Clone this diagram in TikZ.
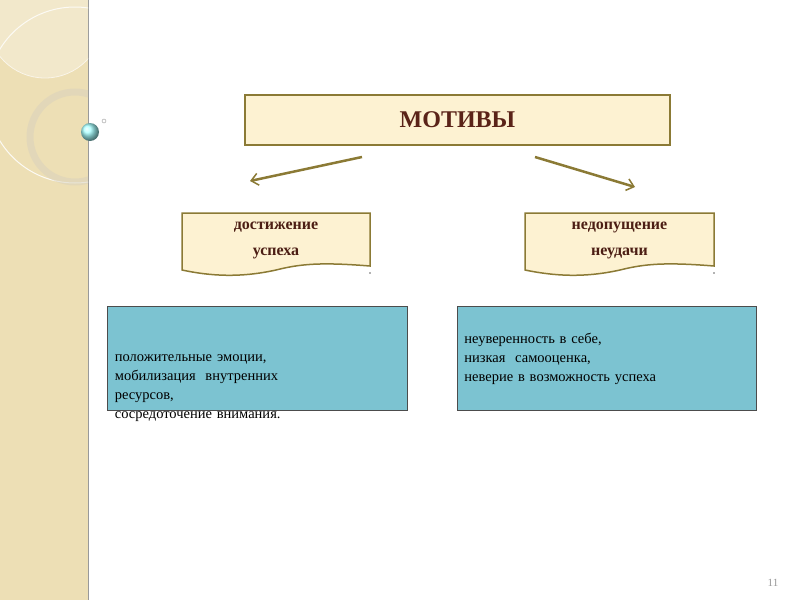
\documentclass[tikz,border=0pt]{standalone}
\usepackage{fontspec}
\setmainfont{Liberation Serif}
\usetikzlibrary{arrows.meta}
\definecolor{olive}{HTML}{8B7A35}
\definecolor{cream}{HTML}{FDF2D2}
\definecolor{titlered}{HTML}{5A2318}
\definecolor{cyanbox}{HTML}{7CC3D1}
\definecolor{strip}{HTML}{EDDFB5}
\tikzset{
  docbox/.style={draw=olive,line width=1.5pt,fill=cream},
  infobox/.style={draw=black!70,line width=0.8pt,fill=cyanbox,text width=285pt,align=left,inner sep=6pt,font=\fontsize{14.5}{19}\selectfont,anchor=north west},
  motarrow/.style={draw=olive,line width=2.5pt,-{Straight Barb[length=7pt,width=12pt,line width=1.5pt]}},
  lbl/.style={font=\bfseries\fontsize{16}{26}\selectfont,text=titlered!85!black,align=center}
}
\begin{document}
\begin{tikzpicture}[x=1pt,y=-1pt]
\useasboundingbox (0,0) rectangle (800,600);
\fill[white] (0,0) rectangle (800,600);
% left strip
\fill[strip] (0,0) rectangle (88,600);
\draw[black!40,line width=1pt] (88,0) -- (88,600);
\begin{scope}
\clip (0,0) rectangle (88,600);
\fill[white,opacity=0.3] (45,20) circle (58);
\draw[white!70!strip,line width=0.8pt] (45,20) circle (58);
\draw[white!85!strip,line width=1pt] (75,95) circle (88);
\draw[strip!80!black!60!white,line width=7pt,opacity=0.5] (75,137) circle (45);
\end{scope}
\shade[ball color=cyan!35] (90,132) circle (9);
\draw[black!40,line width=0.4pt] (104,121) circle (2);
% title
\node[draw=olive,line width=1.5pt,fill=cream,minimum width=425pt,minimum height=50pt,font=\bfseries\fontsize{24}{28}\selectfont,text=titlered] (mot) at (457.5,120) {МОТИВЫ};
% doc shapes
\path[docbox] (182,213) -- (370,213) -- (370,266) .. controls (320,262) and (300,264) .. (276,270) .. controls (240,278) and (210,276) .. (182,270) -- cycle;
\path[docbox] (525,213) -- (714,213) -- (714,266) .. controls (664,262) and (644,264) .. (620,270) .. controls (584,278) and (554,276) .. (525,270) -- cycle;
\node[lbl] (dost) at (276,240) {достижение\\успеха};
\node[lbl] (nedo) at (619.5,240) {недопущение\\неудачи};
\fill[black!60] (370,273) circle (0.8) (714,273) circle (0.8);
% arrows
\coordinate (a1) at (362,157); \coordinate (a2) at (535,157);
\draw[motarrow] (a1) -- (250,181);
\draw[motarrow] (a2) -- (635,187);
% info boxes
\node[infobox,minimum width=300pt,minimum height=104pt,text depth=0pt] (pos) at (107,306) {\vspace{-0pt}положительные эмоции,\\мобилизация\ \ внутренних\\ресурсов,\\сосредоточение внимания.};
\node[infobox,minimum width=299pt,minimum height=104pt] (neg) at (457,306) {неуверенность в себе,\\низкая\ \ самооценка,\\неверие в возможность успеха\\[38pt]};
\node[text=black!40,font=\fontsize{11}{13}\selectfont] (pg) at (773,583) {11};
\end{tikzpicture}
\end{document}
